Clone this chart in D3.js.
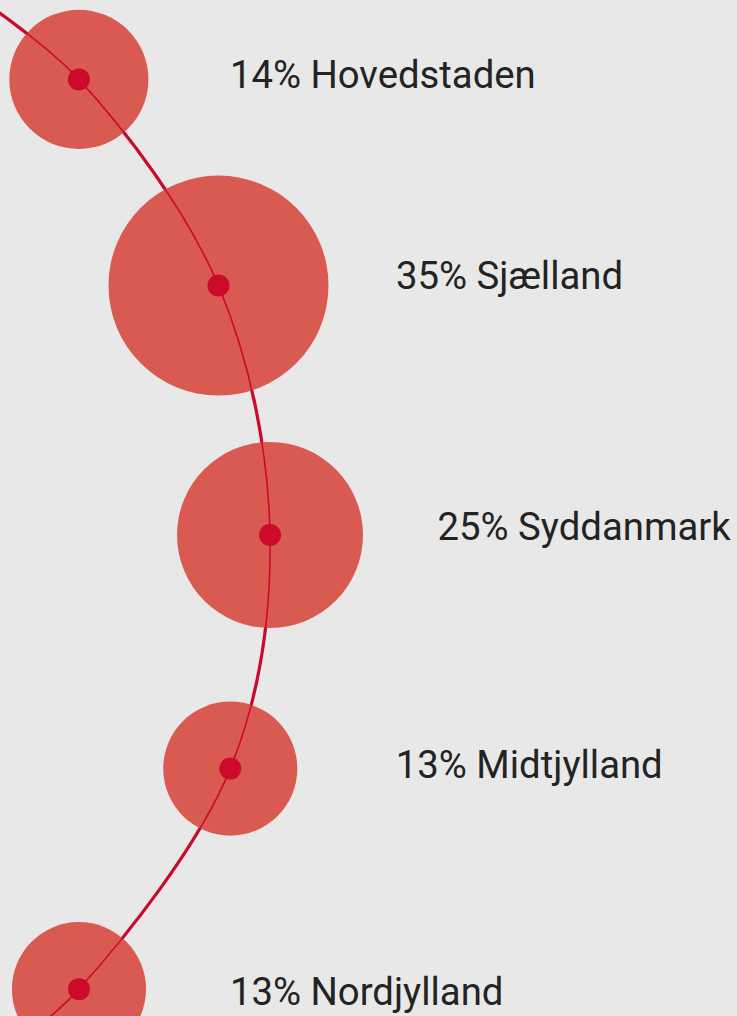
<!DOCTYPE html>
<html>
<head>
<meta charset="utf-8">
<script src="https://cdn.jsdelivr.net/npm/d3@7"></script>
<style>
  html, body { margin: 0; padding: 0; background: #e8e8e8; }
  svg { display: block; }
</style>
</head>
<body>
<script>
// ---- data ----
const regions = ["Hovedstaden", "Sjælland", "Syddanmark", "Midtjylland", "Nordjylland"];
const shares = [14, 35, 25, 13, 13];

// ---- layout (polar placement along the curve) ----
const W = 737, H = 1016;
const arcCenter = [-372, 535];
const anglesDeg = [-45.3, -22.9, 0, 21.2, 45.2];
const radii = [641, 641, 642, 646, 640];
const lineStart = { a: -57, r: 641 }, lineEnd = { a: 54, r: 640 };
const labelDx = [151, 177.5, 167.5, 165.5, 151];
const labelDy = [9, 3, 5, 9, 16];

const svg = d3.select("body").append("svg").attr("width", W).attr("height", H);
svg.append("rect").attr("width", W).attr("height", H).attr("fill", "#e8e8e8");

const rScale = d3.scaleSqrt().domain([0, 35]).range([0, 110]);
const toRad = d => d * Math.PI / 180;
const polar = (aDeg, r) => [arcCenter[0] + r * Math.cos(toRad(aDeg)), arcCenter[1] + r * Math.sin(toRad(aDeg))];

const pts = regions.map((name, i) => {
  const [x, y] = polar(anglesDeg[i], radii[i]);
  return { name, value: shares[i], i, x, y };
});

const linePts = [polar(lineStart.a, lineStart.r)]
  .concat(pts.map(d => [d.x, d.y]))
  .concat([polar(lineEnd.a, lineEnd.r)]);
const lineGen = d3.line().curve(d3.curveCatmullRom.alpha(0.5));

// thick line under circles
svg.append("path").attr("d", lineGen(linePts)).attr("fill", "none")
  .attr("stroke", "#cc0a2c").attr("stroke-width", 3.2);

svg.selectAll("circle.bubble").data(pts).join("circle")
  .attr("class", "bubble")
  .attr("cx", d => d.x).attr("cy", d => d.y)
  .attr("r", d => rScale(d.value))
  .attr("fill", "#d95a50");

// thin line above circles
svg.append("path").attr("d", lineGen(linePts)).attr("fill", "none")
  .attr("stroke", "#cc0a2c").attr("stroke-width", 1.6);

svg.selectAll("circle.dot").data(pts).join("circle")
  .attr("class", "dot")
  .attr("cx", d => d.x).attr("cy", d => d.y)
  .attr("r", 11)
  .attr("fill", "#cc0a2c");

svg.selectAll("text.label").data(pts).join("text")
  .attr("class", "label")
  .attr("x", d => d.x + labelDx[d.i])
  .attr("y", d => d.y + labelDy[d.i])
  .attr("font-family", "Roboto, sans-serif")
  .attr("font-size", 38.3)
  .attr("fill", "#232323")
  .text(d => `${d.value}% ${d.name}`);
</script>
</body>
</html>
